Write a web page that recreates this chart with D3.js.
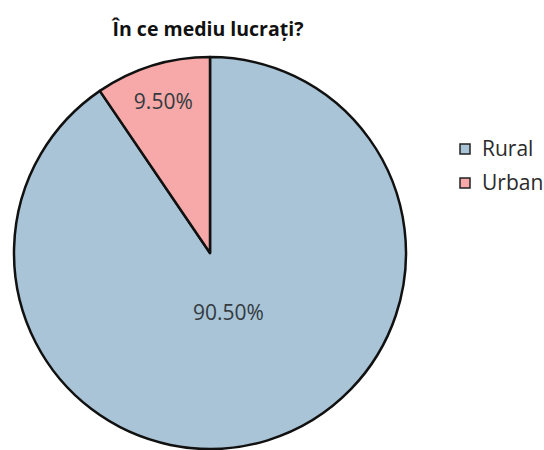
<!DOCTYPE html>
<html>
<head>
<meta charset="utf-8">
<script src="https://cdn.jsdelivr.net/npm/d3@7"></script>
<style>
  html, body { margin: 0; padding: 0; background: #fff; }
  svg { display: block; }
</style>
</head>
<body>
<svg id="chart" width="544" height="450"></svg>
<script>
const title = "În ce mediu lucrați?";
const categories = ["Rural", "Urban"];
const values = [90.5, 9.5];
const labels = ["90.50%", "9.50%"];
const colors = ["#a9c4d6", "#f6a9a8"];

const W = 544, H = 450;
const cx = 210, cy = 253, R = 196;
const fontFam = "'Open Sans', 'Noto Sans', sans-serif";

const svg = d3.select("#chart");
svg.append("rect").attr("width", W).attr("height", H).attr("fill", "#fff");

svg.append("text")
  .attr("x", 208).attr("y", 36)
  .attr("text-anchor", "middle")
  .attr("font-family", fontFam)
  .attr("font-weight", "bold")
  .attr("font-size", 19.5)
  .attr("fill", "#111")
  .text(title);

const data = categories.map((c, i) => ({ cat: c, value: values[i], label: labels[i], color: colors[i] }));
const pie = d3.pie().sort(null).value(d => d.value);
const arcs = pie(data);
const arc = d3.arc().innerRadius(0).outerRadius(R);

const g = svg.append("g").attr("transform", `translate(${cx},${cy})`);
g.selectAll("path.slice").data(arcs).enter().append("path")
  .attr("class", "slice")
  .attr("d", arc)
  .attr("fill", d => d.data.color)
  .attr("stroke", "#111")
  .attr("stroke-width", 2.5)
  .attr("stroke-linejoin", "round");

// label radius fraction per slice (best-fit style placement)
const labelFrac = d => d.data.value > 50 ? 0.32 : 0.81;
g.selectAll("text.lbl").data(arcs).enter().append("text")
  .attr("class", "lbl")
  .attr("transform", d => {
    const r = R * labelFrac(d);
    const c = d3.arc().innerRadius(r).outerRadius(r).centroid(d);
    return `translate(${c[0]},${c[1]})`;
  })
  .attr("text-anchor", "middle")
  .attr("dy", "0.35em")
  .attr("font-family", fontFam)
  .attr("font-size", 21)
  .attr("fill", "#333a40")
  .text(d => d.data.label);

const leg = svg.append("g").attr("transform", "translate(460,149)");
const items = leg.selectAll("g").data(data).enter().append("g")
  .attr("transform", (d, i) => `translate(0,${i * 34})`);
items.append("rect")
  .attr("x", 0).attr("y", -5).attr("width", 10).attr("height", 10)
  .attr("fill", d => d.color)
  .attr("stroke", "#222").attr("stroke-width", 1.5);
items.append("text")
  .attr("x", 22).attr("y", 0).attr("dy", "0.35em")
  .attr("font-family", fontFam)
  .attr("font-size", 21)
  .attr("fill", "#2a2a2a")
  .text(d => d.cat);
</script>
</body>
</html>
